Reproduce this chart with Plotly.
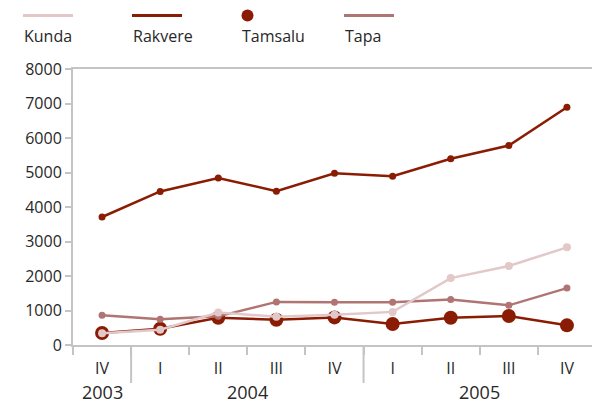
import plotly.graph_objects as go

years = ["2003", "2004", "2004", "2004", "2004", "2005", "2005", "2005", "2005"]
quarters = ["IV", "I", "II", "III", "IV", "I", "II", "III", "IV"]

kunda = [340, 440, 940, 820, 880, 960, 1940, 2290, 2830]
rakvere = [3710, 4450, 4840, 4460, 4980, 4890, 5400, 5780, 6890]
tamsalu = [350, 470, 790, 730, 800, 610, 790, 840, 570]
tapa = [860, 750, 830, 1250, 1240, 1240, 1320, 1150, 1650]

C_KUNDA = "rgb(226,200,200)"
C_RAKVERE = "rgb(139,28,4)"
C_TAMSALU = "rgb(139,28,4)"
C_TAPA = "rgb(176,116,116)"
AXIS = "rgb(196,196,196)"
TXT = "rgb(40,40,40)"
FONT = "Open Sans"

# page body has an 8px margin -> figure is drawn 8px right/down of the window origin
OFF = 8
W, H = 600 - OFF, 405 - OFF
L, R, T, B = 73 - OFF, 4, 69 - OFF, 60
PW, PH = W - L - R, H - T - B

# each quarter label made unique per year (zero-width suffix) so categories stay distinct
uniq_years = list(dict.fromkeys(years))
quarter_keys = [q + "\u200b" * uniq_years.index(y) for y, q in zip(years, quarters)]
n = len(quarters)

fig = go.Figure()
fig.add_trace(go.Scatter(x=quarter_keys, y=tamsalu, mode="lines+markers", name="Tamsalu",
                         line=dict(color=C_TAMSALU, width=2.5),
                         marker=dict(color=C_TAMSALU, size=14)))
fig.add_trace(go.Scatter(x=quarter_keys, y=tapa, mode="lines+markers", name="Tapa",
                         line=dict(color=C_TAPA, width=2.5),
                         marker=dict(color=C_TAPA, size=7)))
fig.add_trace(go.Scatter(x=quarter_keys, y=rakvere, mode="lines+markers", name="Rakvere",
                         line=dict(color=C_RAKVERE, width=2.5),
                         marker=dict(color=C_RAKVERE, size=7)))
fig.add_trace(go.Scatter(x=quarter_keys, y=kunda, mode="lines+markers", name="Kunda",
                         line=dict(color=C_KUNDA, width=2.5),
                         marker=dict(color=C_KUNDA, size=8)))


def px(v):
    # window pixel x -> paper coordinate
    return (v - OFF - L) / PW


def py(v):
    # window pixel y -> paper coordinate
    return (T + PH - (v - OFF)) / PH


shapes = []
annotations = []

# legend (line sample above the name)
legend_items = [("Kunda", C_KUNDA, "line", 23),
                ("Rakvere", C_RAKVERE, "line", 132),
                ("Tamsalu", C_TAMSALU, "dot", 241),
                ("Tapa", C_TAPA, "line", 344)]
for name, col, kind, x0 in legend_items:
    if kind == "line":
        shapes.append(dict(type="line", xref="paper", yref="paper",
                           x0=px(x0), x1=px(x0 + 50), y0=py(15.5), y1=py(15.5),
                           line=dict(color=col, width=3)))
    else:
        r = 6
        cx = x0 + 6.5
        shapes.append(dict(type="circle", xref="paper", yref="paper",
                           x0=px(cx - r), x1=px(cx + r), y0=py(15.5 + r), y1=py(15.5 - r),
                           fillcolor=col, line=dict(color=col, width=0)))
    annotations.append(dict(text=name, xref="paper", yref="paper",
                            x=px(x0 - 1), y=py(36), xanchor="left", yanchor="middle",
                            showarrow=False, font=dict(family=FONT, size=16, color=TXT)))

# year group labels and dividers
for yr in uniq_years:
    idx = [i for i, y in enumerate(years) if y == yr]
    annotations.append(dict(text=yr, xref="x", yref="paper",
                            x=sum(idx) / len(idx), y=py(405),
                            xanchor="center", yanchor="bottom", showarrow=False,
                            borderpad=0,
                            font=dict(family=FONT, size=18, color=TXT)))
    end = (idx[-1] + 1) / n
    shapes.append(dict(type="line", xref="paper", yref="paper",
                       x0=end, x1=end, y0=0, y1=py(383),
                       line=dict(color=AXIS, width=2)))

fig.update_layout(
    width=W, height=H,
    margin=dict(l=L, r=R, t=T, b=B, autoexpand=False),
    paper_bgcolor="white", plot_bgcolor="white",
    showlegend=False,
    font=dict(family=FONT, size=16, color=TXT),
    shapes=shapes, annotations=annotations,
)
fig.update_xaxes(type="category", categoryorder="array", categoryarray=quarter_keys,
                 range=[-0.5, n - 0.5], automargin=False,
                 showline=True, linecolor=AXIS, linewidth=2, mirror=True,
                 ticks="outside", tickson="boundaries", ticklen=8, tickcolor=AXIS, tickwidth=2,
                 ticklabelstandoff=8,
                 showgrid=False, tickfont=dict(family=FONT, size=16, color=TXT))
fig.update_yaxes(range=[0, 8000], dtick=1000, automargin=False,
                 showline=True, linecolor=AXIS, linewidth=2, mirror=True,
                 ticks="outside", ticklen=6, tickcolor=AXIS, tickwidth=2,
                 showgrid=False, zeroline=False,
                 tickfont=dict(family=FONT, size=16, color=TXT))

fig.write_html("out.html")
